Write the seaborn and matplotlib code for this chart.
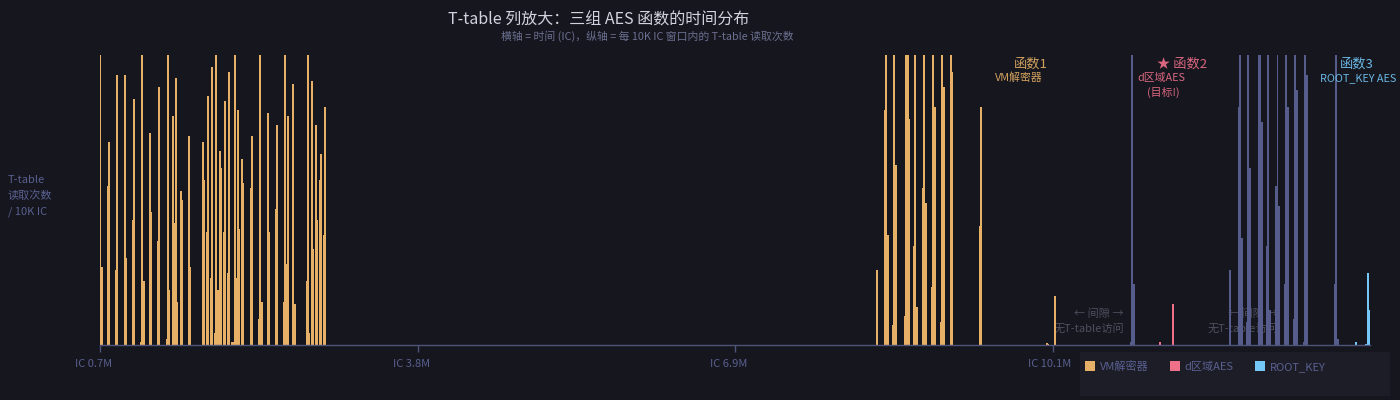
import numpy as np
import pandas as pd
import matplotlib
matplotlib.use("Agg")
import matplotlib.pyplot as plt
import matplotlib.transforms as mtransforms
from matplotlib.patches import Patch, Rectangle
from matplotlib.ticker import FuncFormatter
import seaborn as sns

# ---- dati: posizione della finestra (M IC) e letture T-table per finestra ----
vm_ic = [0.700, 0.713, 0.775, 0.788, 0.854, 0.867, 0.942, 0.956, 1.021, 1.034,
         1.100, 1.113, 1.126, 1.188, 1.201, 1.267, 1.280, 1.355, 1.368, 1.381,
         1.414, 1.427, 1.440, 1.453, 1.493, 1.506, 1.572, 1.585, 1.709, 1.722,
         1.749, 1.762, 1.788, 1.801, 1.827, 1.840, 1.853, 1.876, 1.889, 1.916,
         1.929, 1.955, 1.968, 1.994, 2.007, 2.020, 2.033, 2.053, 2.066, 2.093,
         2.106, 2.181, 2.194, 2.259, 2.273, 2.286, 2.348, 2.361, 2.427, 2.440,
         2.505, 2.518, 2.531, 2.544, 2.597, 2.610, 2.731, 2.744, 2.757, 2.781,
         2.794, 2.820, 2.833, 2.859, 2.872, 2.899, 2.912,
         8.334, 8.412, 8.426, 8.439, 8.491, 8.504, 8.517, 8.609, 8.622, 8.635,
         8.648, 8.697, 8.711, 8.724, 8.786, 8.799, 8.812, 8.874, 8.888, 8.901,
         8.963, 8.976, 8.989, 9.061, 9.074, 9.346, 9.359,
         10.005, 10.018, 10.084]
vm_reads = [100, 27, 55, 70, 26, 93, 93, 30, 43, 85,
            1, 100, 22, 73, 46, 36, 89, 2, 100, 19,
            79, 42, 92, 15, 53, 50, 72, 27, 70, 57,
            39, 86, 23, 96, 4, 100, 19, 67, 61, 39,
            84, 25, 94, 1, 1, 100, 23, 81, 40, 64,
            56, 54, 72, 9, 100, 15, 80, 39, 47, 76,
            15, 100, 28, 79, 90, 14, 22, 100, 4, 91,
            33, 76, 43, 57, 66, 38, 82,
            26, 81, 100, 38, 7, 100, 62, 10, 100, 100,
            78, 34, 100, 13, 54, 100, 49, 20, 100, 82,
            8, 100, 89, 100, 94, 41, 82,
            0.8, 0.4, 17]

d_ic = [11.113, 11.241]
d_reads = [1, 14]

other_ic = [10.831, 10.844, 10.857, 11.808, 11.893, 11.906, 11.919, 11.971,
            11.984, 11.998, 12.089, 12.102, 12.116, 12.168, 12.181, 12.194,
            12.256, 12.270, 12.283, 12.345, 12.358, 12.371, 12.433, 12.446,
            12.460, 12.532, 12.545, 12.558, 12.836, 12.849, 12.863]
other_reads = [1, 100, 21, 26, 82, 100, 37, 8, 100, 61, 100, 100, 77, 34, 100,
               12, 55, 100, 48, 21, 100, 82, 9, 100, 88, 1, 100, 93, 21, 100, 2]

root_ic = [13.040, 13.144, 13.157, 13.171]
root_reads = [1, 0.4, 25, 12]

func_names = ["VM解密器", "d区域AES", "ROOT_KEY", "其他"]
tick_ic = [0.70, 3.82, 6.94, 10.06]

# ---- stile ----
BG = "#15161e"
AXIS = "#4f547a"
MUTED = "#5a6090"
palette = {"VM解密器": "#e6b066", "d区域AES": "#f0708a",
           "ROOT_KEY": "#74c8f8", "其他": "#565c8b"}

sns.set_theme(style="white")
plt.rcParams['font.family'] = ['Noto Sans CJK SC', 'DejaVu Sans']
plt.rcParams['axes.unicode_minus'] = False
plt.rcParams['patch.force_edgecolor'] = False  # niente bordo bianco sulle barre

df = pd.concat([
    pd.DataFrame({"ic": vm_ic, "reads": vm_reads, "func": "VM解密器"}),
    pd.DataFrame({"ic": d_ic, "reads": d_reads, "func": "d区域AES"}),
    pd.DataFrame({"ic": root_ic, "reads": root_reads, "func": "ROOT_KEY"}),
    pd.DataFrame({"ic": other_ic, "reads": other_reads, "func": "其他"}),
], ignore_index=True)

W, H = 1400, 400
fig = plt.figure(figsize=(14, 4), dpi=100, facecolor=BG)
ax = fig.add_axes([100.3 / W, 55 / H, 1269.7 / W, 290 / H])
ax.set_facecolor(BG)

bar_w = 0.018
native = np.min(np.diff(np.unique(df["ic"])))
sns.barplot(data=df, x="ic", y="reads", hue="func", hue_order=func_names,
            palette=palette, native_scale=True, dodge=False, errorbar=None,
            width=bar_w / native, saturation=1, linewidth=0, edgecolor="none",
            legend=False, ax=ax)

ax.set_xlim(0.70, 13.18)
ax.set_ylim(0, 100)
ax.set_xlabel("")
ax.set_ylabel("")
ax.set_yticks([])
ax.set_xticks(tick_ic)
ax.xaxis.set_major_formatter(FuncFormatter(lambda v, p: f"IC {v:.1f}M"))
ax.tick_params(axis="x", length=5, width=1, color=AXIS, labelcolor=MUTED,
               labelsize=8, pad=5, bottom=True, direction="out")
# etichette allineate a sinistra, spostate di 25 px prima della tacca
shift = mtransforms.ScaledTranslation(-25 / 100, 0, fig.dpi_scale_trans)
for lab in ax.get_xticklabels():
    lab.set_horizontalalignment("left")
    lab.set_transform(lab.get_transform() + shift)
for s in ["top", "right", "left"]:
    ax.spines[s].set_visible(False)
ax.spines["bottom"].set_color(AXIS)
ax.spines["bottom"].set_linewidth(1)
ax.grid(False)


def fx(px):
    return px / W


def fy(py):
    return 1 - py / H


# titolo e sottotitolo
fig.text(fx(599), fy(20), "T-table 列放大：三组 AES 函数的时间分布",
         ha="center", va="center", fontsize=11.5, color="#d2d3dc")
fig.text(fx(647), fy(36), "横轴 = 时间 (IC)，纵轴 = 每 10K IC 窗口内的 T-table 读取次数",
         ha="center", va="center", fontsize=7.8, color="#6c7090")

# etichetta asse y
fig.text(fx(8), fy(196), "T-table\n读取次数\n/ 10K IC", ha="left", va="center",
         fontsize=8, color=MUTED, linespacing=1.7)

# etichette delle funzioni
fig.text(fx(1031), fy(64), "函数1", ha="center", va="center", fontsize=9.5,
         color=palette["VM解密器"], alpha=0.9)
fig.text(fx(1019), fy(78), "VM解密器", ha="center", va="center", fontsize=7.8,
         color=palette["VM解密器"], alpha=0.9)
fig.text(fx(1182), fy(64), "★ 函数2", ha="center", va="center", fontsize=9.5,
         color=palette["d区域AES"], alpha=0.9)
fig.text(fx(1161), fy(78), "d区域AES", ha="center", va="center", fontsize=7.8,
         color=palette["d区域AES"], alpha=0.9)
fig.text(fx(1163), fy(92), "(目标!)", ha="center", va="center", fontsize=7.8,
         color=palette["d区域AES"], alpha=0.9)
fig.text(fx(1357), fy(64), "函数3", ha="center", va="center", fontsize=9.5,
         color=palette["ROOT_KEY"], alpha=0.9)
fig.text(fx(1358), fy(78), "ROOT_KEY AES", ha="center", va="center", fontsize=7.8,
         color=palette["ROOT_KEY"], alpha=0.9)

# note sugli intervalli (sotto le barre)
for right in (1124, 1278):
    ax.text(right / W, fy(314), "← 间隙 →", transform=fig.transFigure, ha="right",
            va="center", fontsize=8, color="#4e505e", zorder=0.5)
    ax.text(right / W, fy(328), "无T-table访问", transform=fig.transFigure, ha="right",
            va="center", fontsize=8, color="#4e505e", zorder=0.5)

# legenda
fig.add_artist(Rectangle((fx(1080), fy(396)), 310 / W, 44 / H,
                         transform=fig.transFigure, facecolor="#1c1d27",
                         edgecolor="none", zorder=1))
handles = [Patch(facecolor=palette[n], edgecolor="none", label=n) for n in func_names[:3]]
leg = fig.legend(handles=handles, loc="upper left", ncol=3, frameon=False,
                 bbox_to_anchor=(fx(1076), fy(352)), fontsize=8,
                 handlelength=0.9, handleheight=0.9, handletextpad=0.45,
                 columnspacing=1.9, borderpad=0.3)
for t in leg.get_texts():
    t.set_color(MUTED)
leg.set_zorder(2)

fig.savefig("out.png", dpi=100, facecolor=BG)
